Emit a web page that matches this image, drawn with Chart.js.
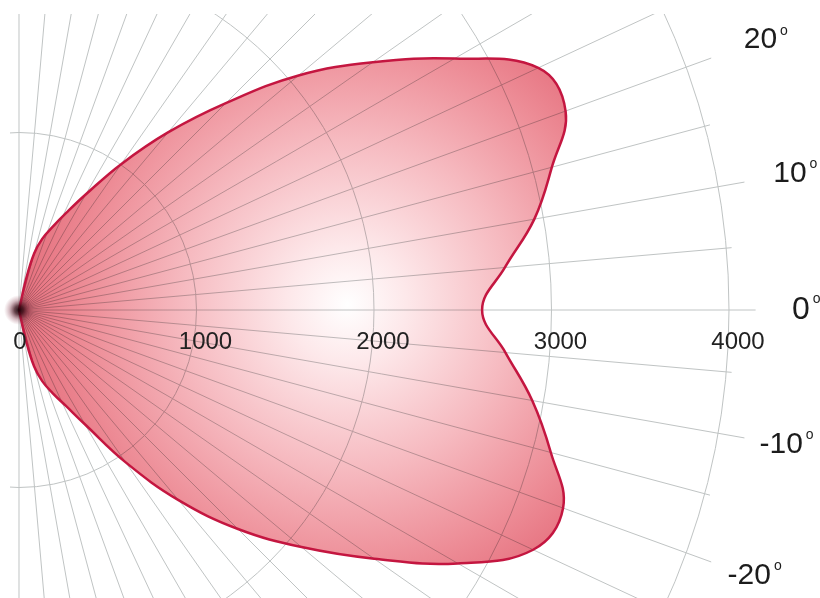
<!DOCTYPE html>
<html><head><meta charset="utf-8">
<script src="https://cdn.jsdelivr.net/npm/chart.js@4.4.1/dist/chart.umd.min.js"></script>
<style>html,body{margin:0;padding:0;background:#fff;}canvas{display:block;}</style>
</head><body>
<canvas id="c" width="820" height="598"></canvas>
<script>
// Pattern data (angle in degrees, radius)
const patternAngles = [-90,-77,-75,-72,-68,-64,-60,-55,-50,-45,-40,-35,-30,-25,-20,-15,-10,-5,0,5,10,15,20,25,30,35,40,45,50,55,60,64,68,72,75,77,90];
const patternRadius = [0,190,330,420,505,600,745,1048,1398,1745,2078,2443,2855,3196,3262,3102,2936,2751,2609,2748,2948,3108,3277,3228,2833,2434,2056,1648,1306,1003,751,610,505,420,330,190,0];
// Grid
const ringValues = [1000,2000,3000,4000];
const radialTickValues = [0,1000,2000,3000,4000];
const radialTickLabels = ['0','1000','2000','3000','4000'];
const spokeAngles = [-90,-85,-80,-75,-70,-65,-60,-55,-50,-45,-40,-35,-30,-25,-20,-15,-10,-5,0,5,10,15,20,25,30,35,40,45,50,55,60,65,70,75,80,85,90];
const angleLabelValues = [20,10,0,-10,-20];
const angleLabelTexts = ['20','10','0','-10','-20'];
const angleLabelRadius = [4445,4410,4405,4360,4378];

const SPOKE_LONG = 4150, SPOKE_SHORT = 4030;
const rad = d => d*Math.PI/180;

const points = patternAngles.map((a,i)=>({x: patternRadius[i]*Math.cos(rad(a)), y: patternRadius[i]*Math.sin(rad(a))}));

const polarGrid = {
  id:'polarGrid',
  beforeDraw(chart){
    const ctx=chart.ctx; ctx.save(); ctx.fillStyle='#fff'; ctx.fillRect(0,0,chart.width,chart.height); ctx.restore();
  },
  beforeDatasetsDraw(chart){
    const {ctx, chartArea:a, scales:{x,y}} = chart;
    const ox=x.getPixelForValue(0), oy=y.getPixelForValue(0);
    ctx.save();
    ctx.beginPath(); ctx.rect(a.left,a.top,a.right-a.left,a.bottom-a.top); ctx.clip();
    ctx.strokeStyle='rgb(192,196,196)'; ctx.lineWidth=1;
    ringValues.forEach(v=>{ ctx.beginPath(); ctx.arc(ox,oy,x.getPixelForValue(v)-ox,0,Math.PI*2); ctx.stroke(); });
    spokeAngles.forEach(d=>{
      const len = (d%10===0)?SPOKE_LONG:SPOKE_SHORT;
      ctx.beginPath(); ctx.moveTo(ox,oy);
      ctx.lineTo(x.getPixelForValue(len*Math.cos(rad(d))), y.getPixelForValue(len*Math.sin(rad(d))));
      ctx.stroke();
    });
    ctx.restore();
  },
  beforeDatasetDraw(chart,args){
    const {ctx, scales:{x,y}} = chart;
    const line = args.meta.dataset;
    line.updateControlPoints(chart.chartArea,'x');
    const cx = x.getPixelForValue(1850), cy = y.getPixelForValue(30);
    const g = ctx.createRadialGradient(cx,cy,0,cx,cy,330);
    g.addColorStop(0,'rgb(255,255,255)');
    g.addColorStop(0.18,'rgb(253,232,234)');
    g.addColorStop(0.5,'rgb(246,186,192)');
    g.addColorStop(0.8,'rgb(237,140,150)');
    g.addColorStop(1,'rgb(229,110,124)');
    ctx.save();
    ctx.globalCompositeOperation='multiply';
    ctx.beginPath(); line.path(ctx); ctx.closePath();
    ctx.fillStyle=g; ctx.fill();
    ctx.restore();
  },
  afterDatasetsDraw(chart){
    const {ctx, scales:{x,y}} = chart;
    const ox=x.getPixelForValue(0), oy=y.getPixelForValue(0);
    ctx.save();
    // origin blob
    const b = ctx.createRadialGradient(ox,oy,0,ox,oy,15);
    b.addColorStop(0,'rgba(20,0,5,0.95)');
    b.addColorStop(0.3,'rgba(50,5,15,0.75)');
    b.addColorStop(0.65,'rgba(110,30,50,0.3)');
    b.addColorStop(1,'rgba(150,60,80,0)');
    ctx.fillStyle=b; ctx.beginPath(); ctx.arc(ox,oy,15,0,Math.PI*2); ctx.fill();
    // radial tick labels
    ctx.fillStyle='#222';
    ctx.font="24px 'Liberation Sans', Arial, sans-serif";
    ctx.textAlign='center'; ctx.textBaseline='middle';
    radialTickValues.forEach((v,i)=>{
      ctx.fillText(radialTickLabels[i], x.getPixelForValue(v)+(v===0?1:9), oy+32);
    });
    // angle labels
    ctx.fillStyle='#1c1c1c';
    angleLabelValues.forEach((d,i)=>{
      const R = angleLabelRadius[i];
      const px = x.getPixelForValue(R*Math.cos(rad(d)));
      const py = y.getPixelForValue(R*Math.sin(rad(d)));
      const size = d===0?32:30;
      ctx.font=size+"px 'Liberation Sans', Arial, sans-serif";
      ctx.textAlign='center'; ctx.textBaseline='middle';
      const t = angleLabelTexts[i];
      ctx.fillText(t, px, py);
      const w = ctx.measureText(t).width;
      ctx.font="14px 'Liberation Sans', Arial, sans-serif";
      ctx.textAlign='left'; ctx.textBaseline='top';
      ctx.fillText('o', px+w/2+3, py-size*0.55);
    });
    ctx.restore();
  }
};

new Chart(document.getElementById('c'), {
  type:'scatter',
  data:{datasets:[{
    data: points,
    showLine:true,
    tension:0.4,
    fill:false,
    borderColor:'rgb(196,22,64)',
    borderWidth:2.5,
    pointRadius:0,
    pointHoverRadius:0
  }]},
  options:{
    responsive:false,
    devicePixelRatio:1,
    animation:false,
    events:[],
    layout:{padding:{left:10,top:14,right:0,bottom:0}},
    plugins:{legend:{display:false},tooltip:{enabled:false}},
    scales:{
      x:{type:'linear',display:false,bounds:'data',min:-50.7,max:4512.7},
      y:{type:'linear',display:false,bounds:'data',min:-1622.5,max:1667.6}
    }
  },
  plugins:[polarGrid]
});
</script>
</body></html>
